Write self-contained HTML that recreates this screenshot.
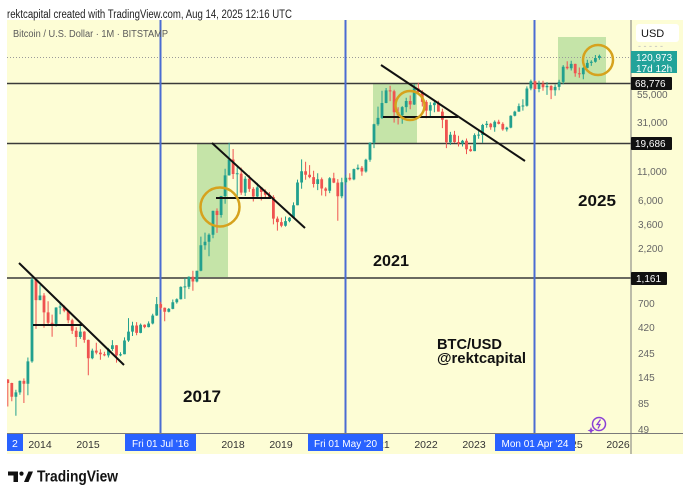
<!DOCTYPE html>
<html><head><meta charset="utf-8"><style>
html,body{margin:0;padding:0;background:#fff;}
svg{display:block;font-family:"Liberation Sans",Arial,sans-serif;}
</style></head><body>
<svg width="690" height="500" viewBox="0 0 690 500" xmlns="http://www.w3.org/2000/svg">
<defs><clipPath id="pc"><rect x="7" y="20" width="624" height="413"/></clipPath></defs>
<rect x="0" y="0" width="690" height="500" fill="#ffffff"/>
<rect x="7" y="20" width="676" height="434" fill="#fdfdd5"/>
<text x="7" y="18" font-size="11.5" fill="#222" textLength="285" lengthAdjust="spacingAndGlyphs">rektcapital created with TradingView.com, Aug 14, 2025 12:16 UTC</text>
<g clip-path="url(#pc)">
  <rect x="197" y="143" width="31" height="134" fill="#c5e4a8"/>
  <rect x="373" y="84" width="44" height="59" fill="#c5e4a8"/>
  <rect x="558" y="37" width="48" height="46" fill="#c5e4a8"/>
  <line x1="7" y1="57.5" x2="631" y2="57.5" stroke="#9a9a9a" stroke-width="1" stroke-dasharray="1,2"/>
  <line x1="7" y1="83.5" x2="631" y2="83.5" stroke="#3a3a3a" stroke-width="1.4"/>
  <line x1="7" y1="143.5" x2="631" y2="143.5" stroke="#3a3a3a" stroke-width="1.4"/>
  <line x1="7" y1="278" x2="631" y2="278" stroke="#3a3a3a" stroke-width="1.4"/>
  <line x1="160.5" y1="20" x2="160.5" y2="433" stroke="#4a6cd2" stroke-width="2"/>
  <line x1="345.5" y1="20" x2="345.5" y2="433" stroke="#4a6cd2" stroke-width="2"/>
  <line x1="534.5" y1="20" x2="534.5" y2="433" stroke="#4a6cd2" stroke-width="2"/>
  <path fill="none" stroke="#22a08e" stroke-width="1" d="M15.9 389.8V415.8M19.9 380.5V394.7M27.9 357.5V395.2M32 277.9V362.8M40 285.1V300.2M56.1 307.2V326.6M60.1 303.6V314.2M80.3 322.3V338.9M92.3 348.6V359.3M108.4 347.9V357.5M112.4 340.1V351M120.5 352.2V356.2M124.5 337.4V354.2M128.5 318.1V341.9M132.5 321.7V336M140.6 323.5V333.3M148.6 321.4V327.4M152.7 313.7V324.4M156.7 297V315.9M168.8 308V312.4M172.8 299.5V309.2M176.8 298.4V303.6M180.8 286.4V299.5M184.9 278.1V298.9M188.9 276.4V289.1M196.9 270.8V282.4M200.9 236.6V271.2M205 232.6V249.7M209 233.4V256.2M213 210.6V238.2M221.1 195.9V217.6M225.1 168.8V203.7M229.1 142.8V175.6M237.2 167.2V200.2M245.2 176.2V196M257.3 182.9V199M285.5 216.5V226.6M289.5 217.1V222.2M293.5 202.4V218.2M297.5 179.6V205.2M301.6 159.4V188.8M317.7 173.3V190.1M329.7 177.1V193.1M341.8 177.7V198.3M345.8 174.7V185M353.9 168.6V180.3M357.9 164.5V170.1M365.9 158.7V172.6M370 142.2V161.8M374 123.7V148.1M378 106.6V125.7M382 90.8V119M386.1 88V103.2M402.2 106.1V123.7M406.2 97.7V112.2M414.2 84.2V105M430.3 102.3V116.2M434.4 99.9V112.3M450.4 131.9V144.9M462.5 139.9V146.5M474.6 133.4V151.1M478.6 130.7V138.7M482.6 123.9V142.9M486.7 121V127.8M494.7 120.4V131.7M506.8 126.7V131.5M510.8 115.2V128.3M514.8 110.8V116.4M518.9 103.5V111.8M522.9 99.2V110.6M526.9 86.4V106.6M530.9 79.6V90.2M539 80.7V92.3M547 82.1V94.9M555.1 84.5V95.7M559.1 79.7V90.3M563.2 65.1V84.3M571.2 60.7V70.5M583.3 67.1V79.2M587.3 59.7V68.3M591.3 60.3V65.9M595.4 55V62.6M599.4 54.6V59.7"/>
  <path fill="none" stroke="#22a08e" stroke-width="2.8" d="M15.9 392.4V396.7M19.9 380.9V392.4M27.9 361.4V383.8M32 279.4V361.4M40 295.5V300.1M56.1 307.5V323.9M60.1 306.5V307.5M80.3 331.6V337M92.3 350.6V358.2M108.4 349V355.4M112.4 345.3V349M120.5 354.2V355.4M124.5 340.5V354.2M128.5 331.6V340.5M132.5 325.5V331.6M140.6 324.7V332.9M148.6 323.5V327.1M152.7 315.5V323.5M156.7 304.1V315.5M168.8 308.9V311.7M172.8 302.2V308.9M176.8 299.2V302.2M180.8 286.9V299.2M184.9 286.4V287.4M188.9 276.8V286.8M196.9 270.8V281.5M200.9 245.3V270.8M205 241.7V245.3M209 234.7V241.7M213 210.9V234.7M221.1 196V215M225.1 175.4V196M229.1 159.5V175.4M237.2 173.3V174.3M245.2 178.8V192.6M257.3 187.4V196.5M285.5 221.1V225.8M289.5 217.7V221.1M293.5 205.2V217.7M297.5 182.5V205.2M301.6 171.3V182.5M317.7 179.3V184M329.7 178.3V190.8M341.8 182.2V196.3M345.8 177.8V182.2M353.9 169.1V179.4M357.9 167.8V169.1M365.9 159.7V171.5M370 142.7V159.7M374 124.2V142.7M378 117.9V124.2M382 103V117.9M386.1 90.4V103M402.2 107.1V115.2M406.2 101V107.1M414.2 88.4V104.5M430.3 105.1V110.6M434.4 102.7V105.1M450.4 134.7V142.2M462.5 140.8V143.4M474.6 135.1V151.1M478.6 134.6V135.6M482.6 125V135M486.7 123.7V125M494.7 121.8V127.3M506.8 127.6V129.4M510.8 115.7V127.6M514.8 111.6V115.7M518.9 106.1V111.6M522.9 105.5V106.5M526.9 88.5V105.8M530.9 81.2V88.5M539 83.8V89M547 85.9V87.3M555.1 86.9V90.3M559.1 81.9V86.9M563.2 66.8V81.9M571.2 63.9V68.3M583.3 67.9V74.2M587.3 62.9V67.9M591.3 61.7V62.9M595.4 58V61.7M599.4 55.9V58"/>
  <path fill="none" stroke="#ef5350" stroke-width="1" d="M7.8 379.1V406.5M11.8 382.7V401.3M23.9 378.4V403M36 277.9V328.9M44 293.1V327.8M48.1 301.2V324.4M52.1 314.6V336.7M64.2 305.4V312.3M68.2 309.6V323.3M72.2 318.8V334M76.2 327.2V346.9M84.3 331.1V342.7M88.3 339.6V375.2M96.3 342.7V354.4M100.4 349.2V359.7M104.4 351.8V356.2M116.5 345.1V362.6M136.6 322.1V335.3M144.6 324.4V328.3M160.7 301.9V309.6M164.7 307.5V321.2M192.9 270.8V290.7M217 208.4V232.9M233.1 149V179M241.2 167.6V194.9M249.3 175.1V191.9M253.3 187.1V201.5M261.3 187.1V200.5M265.3 189.4V198.5M269.4 192.1V197.9M273.4 195.2V224.4M277.4 216.5V230.6M281.4 217.6V227.3M305.6 161.8V179.7M309.6 165.1V178.2M313.6 170.7V187.5M321.7 177.5V195.5M325.7 187.3V196.2M333.8 172.8V183.1M337.8 179.1V220.7M349.8 173.2V180.6M361.9 166V175.7M390.1 85.7V101.1M394.1 89.8V122.6M398.1 107.3V124.5M410.2 95.5V109.3M418.3 82.8V95.1M422.3 90.2V106.5M426.3 100.1V118.2M438.4 100.7V111.6M442.4 108.8V128.1M446.4 119.7V148.1M454.5 130.9V142.9M458.5 135.7V146.5M466.5 138.5V154.1M470.6 145.9V151.7M490.7 122.9V129.8M498.7 119.8V124.4M502.8 122.3V130.7M535 80.2V89.8M543 80.7V90.7M551.1 85.2V99.1M567.2 61.2V69.5M575.2 63.8V76.8M579.3 67.5V77.8"/>
  <path fill="none" stroke="#ef5350" stroke-width="2.8" d="M7.8 379.5V383M11.8 383V396.7M23.9 380.9V383.8M36 279.4V300.1M44 295.5V312.4M48.1 312.4V322.8M52.1 322.8V323.9M64.2 306.5V310.8M68.2 310.8V320.2M72.2 320.2V330.8M76.2 330.8V337M84.3 331.6V339.9M88.3 339.9V358.2M96.3 350.6V352.6M100.4 352.6V354.2M104.4 354.2V355.4M116.5 345.3V355.4M136.6 325.5V332.9M144.6 324.7V327.1M160.7 304.1V307.7M164.7 307.7V311.7M192.9 276.8V281.5M217 210.9V215M233.1 159.5V174M241.2 173.6V192.6M249.3 178.8V188.9M253.3 188.9V196.5M261.3 187.4V192M265.3 192V194.8M269.4 194.8V197M273.4 197V218.6M277.4 218.6V222.1M281.4 222.1V225.8M305.6 171.3V174.7M309.6 174.7V177.1M313.6 177.1V184M321.7 179.3V188.5M325.7 188.5V190.8M333.8 178.3V182.6M337.8 182.6V196.3M349.8 177.8V179.4M361.9 167.8V171.5M390.1 90.4V91.4M394.1 91.3V112.2M398.1 112.2V115.2M410.2 101V104.5M418.3 88.4V91.9M422.3 91.9V101.9M426.3 101.9V110.6M438.4 102.7V111.6M442.4 111.6V119.8M446.4 119.8V142.2M454.5 134.7V142M458.5 142V143.4M466.5 140.8V149.2M470.6 149.2V151.1M490.7 123.7V127.3M498.7 121.8V123.9M502.8 123.9V129.4M535 81.2V89M543 83.8V87.3M551.1 85.9V90.3M567.2 66.8V68.3M575.2 63.9V73.2M579.3 73.2V74.2"/>
  <line x1="19" y1="263" x2="124" y2="365" stroke="#111" stroke-width="2"/>
  <line x1="33" y1="325" x2="82" y2="325" stroke="#111" stroke-width="2"/>
  <line x1="212" y1="143" x2="305" y2="228" stroke="#111" stroke-width="2"/>
  <line x1="216" y1="198" x2="271" y2="198" stroke="#111" stroke-width="2"/>
  <line x1="381" y1="65" x2="525" y2="161" stroke="#111" stroke-width="2"/>
  <line x1="383" y1="117" x2="458" y2="117" stroke="#111" stroke-width="2"/>
  <circle cx="220" cy="207" r="19.5" fill="none" stroke="#d6a21e" stroke-width="2.5"/>
  <circle cx="410" cy="105.5" r="14.5" fill="none" stroke="#d6a21e" stroke-width="2.5"/>
  <circle cx="598" cy="60" r="15" fill="none" stroke="#d6a21e" stroke-width="2.5"/>
  <text x="183" y="402" font-size="17" font-weight="bold" fill="#111" textLength="38" lengthAdjust="spacingAndGlyphs">2017</text>
  <text x="373" y="266" font-size="16" font-weight="bold" fill="#111" textLength="36" lengthAdjust="spacingAndGlyphs">2021</text>
  <text x="578" y="206" font-size="16" font-weight="bold" fill="#111" textLength="38" lengthAdjust="spacingAndGlyphs">2025</text>
  <text x="437" y="349" font-size="15" font-weight="bold" fill="#111" textLength="65" lengthAdjust="spacingAndGlyphs">BTC/USD</text>
  <text x="437" y="363" font-size="15" font-weight="bold" fill="#111" textLength="89" lengthAdjust="spacingAndGlyphs">@rektcapital</text>
  <circle cx="599" cy="424" r="6.5" fill="none" stroke="#8a3fd6" stroke-width="1.5"/>
  <path d="M600.5 419.5 L597 424.5 L600 424.5 L598 428.5" fill="none" stroke="#8a3fd6" stroke-width="1.3"/>
  <path d="M591 427 L592 429.5 L594.5 430.5 L592 431.5 L591 434 L590 431.5 L587.5 430.5 L590 429.5 Z" fill="#8a3fd6"/>
</g>
<text x="13" y="37" font-size="10" fill="#5a5a5a" textLength="155" lengthAdjust="spacingAndGlyphs">Bitcoin / U.S. Dollar · 1M · BITSTAMP</text>
<line x1="631" y1="20" x2="631" y2="454" stroke="#7a7a7a" stroke-width="1"/>
<line x1="7" y1="433.5" x2="683" y2="433.5" stroke="#7a7a7a" stroke-width="1"/>
<rect x="636" y="24" width="43" height="18" rx="3" fill="#ffffff"/>
<text x="641" y="37" font-size="11" fill="#111">USD</text>
<text x="638" y="49" font-size="9" fill="#bbb">- - - - -</text>
<g font-size="10" fill="#666">
  <text x="637" y="98">55,000</text>
  <text x="637" y="126">31,000</text>
  <text x="637" y="175">11,000</text>
  <text x="638" y="204">6,000</text>
  <text x="638" y="228">3,600</text>
  <text x="638" y="252">2,200</text>
  <text x="638" y="307">700</text>
  <text x="638" y="331">420</text>
  <text x="638" y="357">245</text>
  <text x="638" y="381">145</text>
  <text x="638" y="407">85</text>
  <text x="638" y="433">49</text>
</g>
<rect x="631" y="51" width="46" height="22" fill="#22a39a"/>
<text x="636" y="61" font-size="10" fill="#fff">120,973</text>
<text x="636" y="72" font-size="10" fill="#fff">17d 12h</text>
<rect x="631" y="77" width="41" height="13" rx="1" fill="#111"/>
<text x="635" y="87" font-size="10" fill="#fff">68,776</text>
<rect x="631" y="137" width="41" height="13" rx="1" fill="#111"/>
<text x="635" y="147" font-size="10" fill="#fff">19,686</text>
<rect x="631" y="272" width="36" height="13" rx="1" fill="#111"/>
<text x="636" y="282" font-size="10" fill="#fff">1,161</text>
<g font-size="10.5" fill="#333" text-anchor="middle">
  <text x="40" y="448">2014</text>
  <text x="88" y="448">2015</text>
  <text x="233" y="448">2018</text>
  <text x="281" y="448">2019</text>
  <text x="378" y="448">2021</text>
  <text x="426" y="448">2022</text>
  <text x="474" y="448">2023</text>
  <text x="571" y="448">2025</text>
  <text x="618" y="448">2026</text>
</g>
<rect x="7" y="434" width="16" height="17" fill="#2962ff"/>
<text x="12" y="447" font-size="10.5" fill="#fff">2</text>
<rect x="125" y="434" width="71" height="17" fill="#2962ff"/>
<text x="160.5" y="447" font-size="10" fill="#fff" text-anchor="middle">Fri 01 Jul '16</text>
<rect x="308" y="434" width="75" height="17" fill="#2962ff"/>
<text x="345.5" y="447" font-size="10" fill="#fff" text-anchor="middle">Fri 01 May '20</text>
<rect x="495" y="434" width="80" height="17" fill="#2962ff"/>
<text x="535" y="447" font-size="10" fill="#fff" text-anchor="middle">Mon 01 Apr '24</text>
<g fill="#111">
  <rect x="8" y="471.5" width="10" height="4"/>
  <rect x="13.5" y="471.5" width="4.5" height="10.5"/>
  <circle cx="21.5" cy="473.6" r="2.1"/>
  <path d="M24 482 L28.5 471.5 L33 471.5 L28.5 482 Z"/>
</g>
<text x="37" y="481.5" font-size="15.5" font-weight="bold" fill="#131313" textLength="81" lengthAdjust="spacingAndGlyphs">TradingView</text>
</svg>
</body></html>
